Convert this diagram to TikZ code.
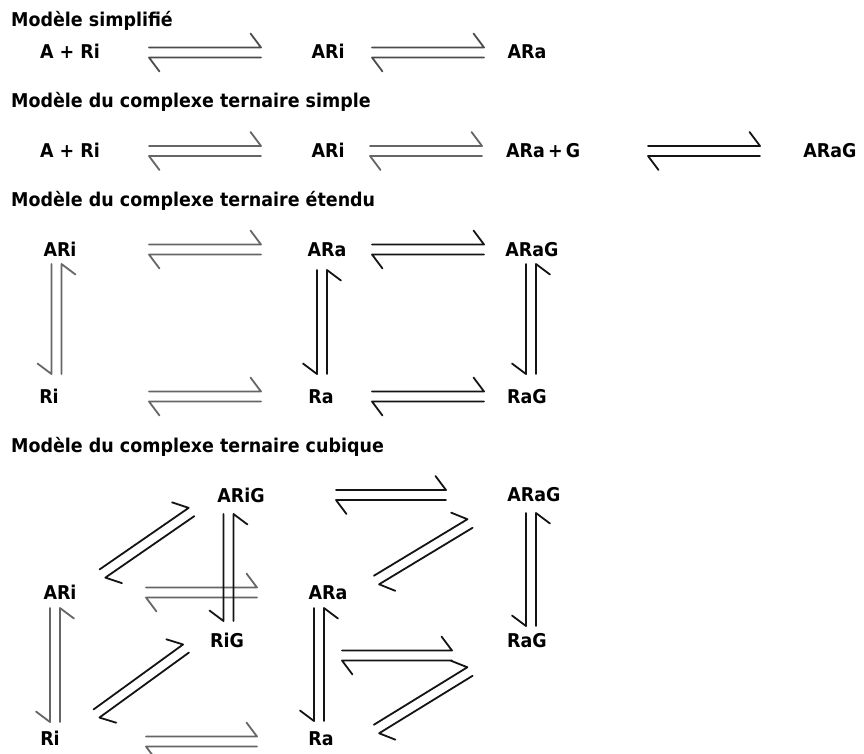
\documentclass[tikz,border=0pt]{standalone}
\usepackage{fontspec}
\newfontfamily\labfont{DejaVu Sans}[FakeStretch=0.92]
\usetikzlibrary{calc}
\def\eqd{5pt}
\def\eqh{10.5pt}
\def\eqo{19pt}
% #1 style, #2 start, #3 end, #4 '-' for mirrored (vertical) arrows
\newcommand\eqarr[4][]{%
  \path ($(#2)!#4\eqd!90:(#3)$) coordinate (q1)
        ($(#3)!#4\eqd!-90:(#2)$) coordinate (q2)
        ($(#3)!\eqh!(#2)$) coordinate (q3)
        ($(#2)!#4\eqd!-90:(#3)$) coordinate (r2)
        ($(#3)!#4\eqd!90:(#2)$) coordinate (r1)
        ($(#2)!\eqh!(#3)$) coordinate (r3);
  \path ($(q3)!#4\eqo!-90:(#2)$) coordinate (q4)
        ($(r3)!#4\eqo!-90:(#3)$) coordinate (r4);
  \draw[eqline,#1] (q1) -- (q2) -- (q4);
  \draw[eqline,#1] (r1) -- (r2) -- (r4);
}
\begin{document}
\begin{tikzpicture}[x=1pt,y=-1pt,
  lab/.style={font=\labfont\bfseries\fontsize{19}{22}\selectfont, inner sep=0pt, anchor=base},
  ttl/.style={lab, anchor=base west},
  eqline/.style={line width=1.8pt, line cap=round, line join=round},
  dk/.style={draw=black!92},
  gr/.style={draw=black!60},
  gd/.style={draw=black!70}]
\useasboundingbox (0,0) rectangle (864,753);

% titles
\node[ttl] (t1) at (11,26) {Modèle simplifié};
\node[ttl] (t2) at (11,107) {Modèle du complexe ternaire simple};
\node[ttl] (t3) at (11,206) {Modèle du complexe ternaire étendu};
\node[ttl] (t4) at (11,452) {Modèle du complexe ternaire cubique};

% row 1
\node[lab] (r1a) at (70,58) {A + Ri};
\node[lab] (r1b) at (328,58) {ARi};
\node[lab] (r1c) at (527,58) {ARa};
\coordinate (a1s) at (149,52.5); \coordinate (a1e) at (261,52.5);
\coordinate (a2s) at (372,52.5); \coordinate (a2e) at (484,52.5);
\eqarr[gd]{a1s}{a1e}{}
\eqarr[gd]{a2s}{a2e}{}

% row 2
\node[lab] (r2a) at (70,157) {A + Ri};
\node[lab] (r2b) at (328,157) {ARi};
\node[lab,anchor=base west] (r2c) at (506,157) {ARa\,+\,G};
\node[lab] (r2d) at (830,157) {ARaG};
\coordinate (b1s) at (149,151); \coordinate (b1e) at (261,151);
\coordinate (b2s) at (370,151); \coordinate (b2e) at (482,151);
\coordinate (b3s) at (648,151); \coordinate (b3e) at (760,151);
\eqarr[gr]{b1s}{b1e}{}
\eqarr[gr]{b2s}{b2e}{}
\eqarr[dk]{b3s}{b3e}{}

% row 3 (extended ternary complex)
\node[lab] (e1) at (60,256) {ARi};
\node[lab] (e2) at (327,256) {ARa};
\node[lab] (e3) at (532,256) {ARaG};
\node[lab] (e4) at (49,403) {Ri};
\node[lab] (e5) at (321,403) {Ra};
\node[lab] (e6) at (527,403) {RaG};
\coordinate (c1s) at (149,249.5); \coordinate (c1e) at (261,249.5);
\coordinate (c2s) at (372,249.5); \coordinate (c2e) at (484,249.5);
\coordinate (c3s) at (149,396.5); \coordinate (c3e) at (261,396.5);
\coordinate (c4s) at (372,396.5); \coordinate (c4e) at (484,396.5);
\coordinate (v1s) at (56.5,264); \coordinate (v1e) at (56.5,374);
\coordinate (v2s) at (322,270); \coordinate (v2e) at (322,374);
\coordinate (v3s) at (531,264); \coordinate (v3e) at (531,374);
\eqarr[gr]{c1s}{c1e}{}
\eqarr[dk]{c2s}{c2e}{}
\eqarr[gr]{c3s}{c3e}{}
\eqarr[dk]{c4s}{c4e}{}
\eqarr[gr]{v1s}{v1e}{-}
\eqarr[dk]{v2s}{v2e}{-}
\eqarr[dk]{v3s}{v3e}{-}

% cubic ternary complex
\node[lab] (k1) at (241,502) {ARiG};
\node[lab] (k2) at (534,501) {ARaG};
\node[lab] (k3) at (60,599) {ARi};
\node[lab] (k4) at (328,599) {ARa};
\node[lab] (k5) at (227,647) {RiG};
\node[lab] (k6) at (527,647) {RaG};
\node[lab] (k7) at (50,745) {Ri};
\node[lab] (k8) at (321,745) {Ra};

\coordinate (d1s) at (146,592.5); \coordinate (d1e) at (257,592.5);
\coordinate (d2s) at (55,608); \coordinate (d2e) at (55,722);
\coordinate (d3s) at (146,741.5); \coordinate (d3e) at (257,741.5);
\eqarr[gr]{d1s}{d1e}{}
\eqarr[gr]{d2s}{d2e}{-}
\eqarr[gr]{d3s}{d3e}{}

\coordinate (d4s) at (228.5,514); \coordinate (d4e) at (228.5,621);
\coordinate (d5s) at (336,495); \coordinate (d5e) at (446,495);
\coordinate (d6s) at (531,513); \coordinate (d6e) at (531,626);
\coordinate (d7s) at (102.5,573.5); \coordinate (d7e) at (191.5,512);
\coordinate (d8s) at (376.5,580); \coordinate (d8e) at (470,523.5);
\coordinate (d9s) at (319,608); \coordinate (d9e) at (319,721);
\coordinate (d10s) at (96.5,713.5); \coordinate (d10e) at (186,648.5);
\coordinate (d11s) at (342,655.5); \coordinate (d11e) at (452,655.5);
\coordinate (d12s) at (376.5,729); \coordinate (d12e) at (470,671.5);
\eqarr[dk]{d4s}{d4e}{-}
\eqarr[dk]{d5s}{d5e}{}
\eqarr[dk]{d6s}{d6e}{-}
\eqarr[dk]{d7s}{d7e}{}
\eqarr[dk]{d8s}{d8e}{}
\eqarr[dk]{d9s}{d9e}{-}
\eqarr[dk]{d10s}{d10e}{}
\eqarr[dk]{d11s}{d11e}{}
\eqarr[dk]{d12s}{d12e}{}
\end{tikzpicture}
\end{document}
